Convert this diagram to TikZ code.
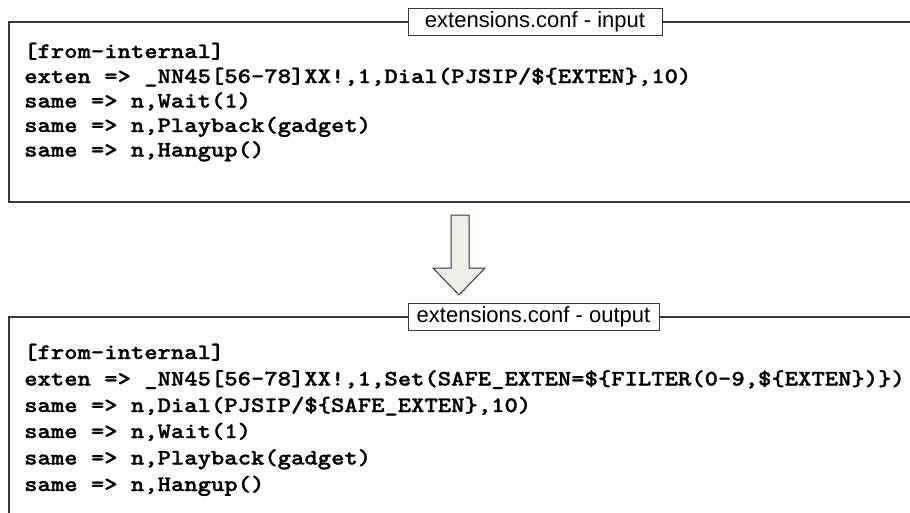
\documentclass[tikz,border=0pt]{standalone}
\usepackage{fontspec}
\newfontfamily\codefont{Latin Modern Mono Light}[FakeStretch=1.15, BoldFeatures={FakeBold=1.2}]
\newfontfamily\labfont{Liberation Sans}
\definecolor{framegray}{RGB}{55,55,55}
\definecolor{arrowfill}{RGB}{238,239,228}
\tikzset{
  frame/.style={draw=framegray, line width=1.4pt},
  codeline/.style={anchor=base west, inner sep=0pt, text=black,
    font=\codefont\bfseries\fontsize{22.1}{26}\selectfont},
  labelbox/.style={draw=framegray, line width=1pt, fill=white, inner xsep=4pt, inner ysep=0pt,
    minimum height=27pt, text=black, font=\labfont\fontsize{22}{26}\selectfont},
  bigarrow/.style={draw=framegray, line width=1pt, fill=arrowfill, line join=miter}
}
\begin{document}
\begin{tikzpicture}[x=1pt,y=-1pt]
\useasboundingbox (0,0) rectangle (910,512);
% top box
\draw[frame] (915,22) -| (9,202) -- (915,202);
\node[labelbox, minimum width=254pt] (lin) at (535,22) {extensions.conf - input};
\node[codeline] (a1) at (24,58) {[from-internal]};
\node[codeline] (a2) at (24,83) {exten => \_NN45[56-78]XX!,1,Dial(PJSIP/\$\{EXTEN\},10)};
\node[codeline] (a3) at (24,107.5) {same => n,Wait(1)};
\node[codeline] (a4) at (24,132) {same => n,Playback(gadget)};
\node[codeline] (a5) at (24,156.5) {same => n,Hangup()};
% arrow
\draw[bigarrow] (451,215) -- (469,215) -- (469,268) -- (485,268) -- (459,295) -- (433,268) -- (451,268) -- cycle;
% bottom box
\draw[frame] (915,317) -| (9,520);
\node[labelbox, minimum width=251pt] (lout) at (533.5,317) {extensions.conf - output};
\node[codeline] (b1) at (24,359) {[from-internal]};
\node[codeline] (b2) at (24,385.5) {exten => \_NN45[56-78]XX!,1,Set(SAFE\_EXTEN=\$\{FILTER(0-9,\$\{EXTEN\})\})};
\node[codeline] (b3) at (24,412) {same => n,Dial(PJSIP/\$\{SAFE\_EXTEN\},10)};
\node[codeline] (b4) at (24,438) {same => n,Wait(1)};
\node[codeline] (b5) at (24,464.5) {same => n,Playback(gadget)};
\node[codeline] (b6) at (24,491) {same => n,Hangup()};
\end{tikzpicture}
\end{document}
